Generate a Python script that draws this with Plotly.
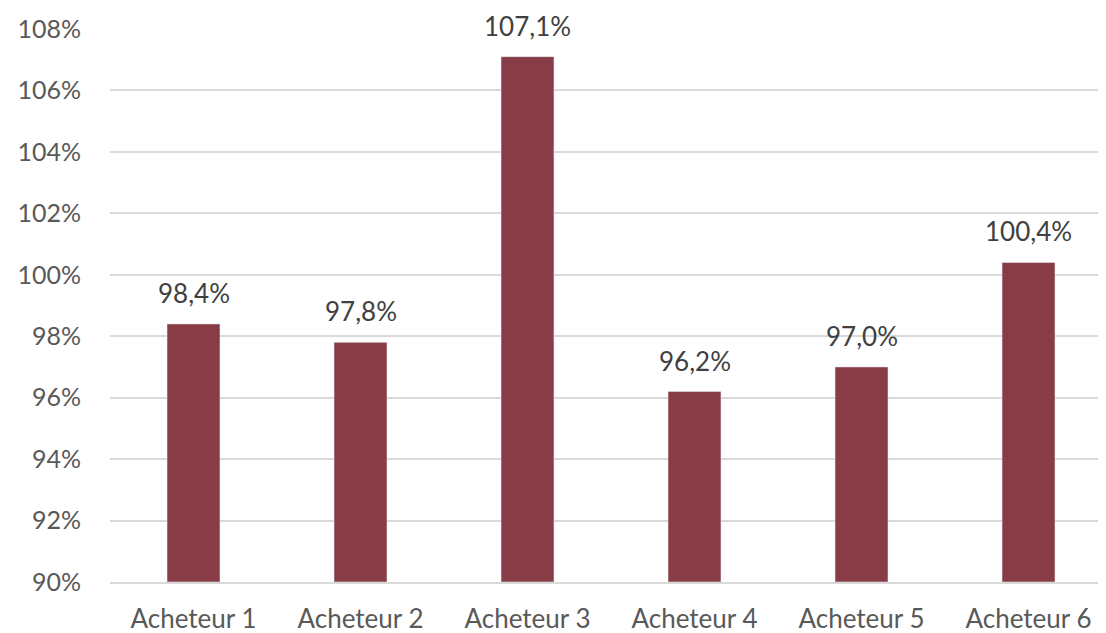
import plotly.graph_objects as go

categories = ["Acheteur 1", "Acheteur 2", "Acheteur 3", "Acheteur 4", "Acheteur 5", "Acheteur 6"]
values = [98.4, 97.8, 107.1, 96.2, 97.0, 100.4]
base_value = 90
tick_vals = [90, 92, 94, 96, 98, 100, 102, 104, 106, 108]
tick_text = [f"{v}%" for v in tick_vals]
labels = [f"{v:.1f}%".replace(".", ",") for v in values]

FONT = "Lato, 'Open Sans', sans-serif"

fig = go.Figure(go.Bar(
    x=categories, y=[v - base_value for v in values], base=base_value,
    marker_color="#873C46",
    hoverinfo="skip",
))
for c, v, t in zip(categories, values, labels):
    fig.add_annotation(x=c, y=v, text=t, showarrow=False, yanchor="bottom",
                       yshift=13, font=dict(family=FONT, size=26, color="#404040"))
fig.update_layout(
    width=1098, height=625,
    margin=dict(l=102, r=0, t=21, b=51, autoexpand=False),
    paper_bgcolor="white", plot_bgcolor="white",
    bargap=0.683, showlegend=False,
    font=dict(family=FONT, size=25, color="#595959"),
)
fig.update_yaxes(range=[90, 108], tickvals=tick_vals, ticktext=tick_text,
                 showgrid=True, gridcolor="#D9D9D9", gridwidth=2, automargin=False,
                 zeroline=False, showline=False, ticks="", ticklabelstandoff=28,
                 tickfont=dict(family=FONT, size=25, color="#595959"))
fig.update_xaxes(range=[-0.5, 5.464], showline=True, linecolor="#D9D9D9", linewidth=2,
                 ticks="", automargin=False, ticklabelstandoff=13,
                 tickfont=dict(family=FONT, size=26, color="#595959"))
fig.write_html("out.html")
